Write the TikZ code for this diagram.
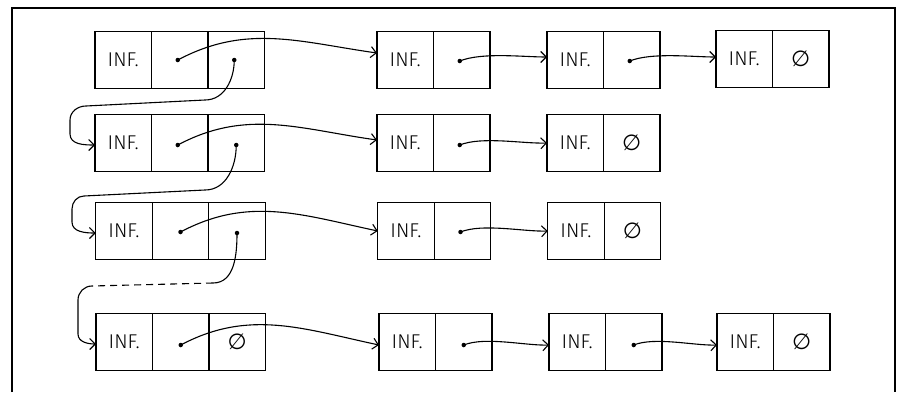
\documentclass[tikz,border=0pt]{standalone}
\usepackage{fontspec}
\newfontfamily\hand{Fira Sans Light}
\newfontfamily\symf{DejaVu Sans}
\usetikzlibrary{arrows.meta,positioning}
\begin{document}
\begin{tikzpicture}[x=1bp,y=1bp,
 cell/.style={draw, line width=1.3bp, minimum width=56.5bp, minimum height=57bp,
   inner sep=0pt, outer sep=0pt, font=\hand\fontsize{20}{20}\selectfont},
 ptr/.style={line width=1.1bp, -{Straight Barb[length=5.5bp,width=11bp]}},
 link/.style={line width=1.1bp},
 dotc/.style={circle, fill, inner sep=0pt, minimum size=4.5bp},
 nil/.style={font=\symf\fontsize{22}{22}\selectfont},
]
\useasboundingbox (0,0) rectangle (900,392);
% frame
\draw[line width=1.8bp] (12,0) -- (12,384) -- (895,384) -- (895,0);

% ---- row 1
\node[cell] (r1a1) at (123.25,332) {INF.};
\node[cell, right=0pt of r1a1] (r1a2) {};
\node[cell, right=0pt of r1a2] (r1a3) {};
\node[cell] (r1b1) at (405.25,332) {INF.};
\node[cell, right=0pt of r1b1] (r1b2) {};
\node[cell] (r1c1) at (575.25,332) {INF.};
\node[cell, right=0pt of r1c1] (r1c2) {};
\node[cell] (r1d1) at (744.25,333) {INF.};
\node[cell, right=0pt of r1d1, nil] (r1d2) {∅};

% ---- row 2
\node[cell] (r2a1) at (123.25,249) {INF.};
\node[cell, right=0pt of r2a1] (r2a2) {};
\node[cell, right=0pt of r2a2] (r2a3) {};
\node[cell] (r2b1) at (405.25,249) {INF.};
\node[cell, right=0pt of r2b1] (r2b2) {};
\node[cell] (r2c1) at (575.25,249) {INF.};
\node[cell, right=0pt of r2c1, nil] (r2c2) {∅};

% ---- row 3
\node[cell] (r3a1) at (124,161) {INF.};
\node[cell, right=0pt of r3a1] (r3a2) {};
\node[cell, right=0pt of r3a2] (r3a3) {};
\node[cell] (r3b1) at (406,161) {INF.};
\node[cell, right=0pt of r3b1] (r3b2) {};
\node[cell] (r3c1) at (576,161) {INF.};
\node[cell, right=0pt of r3c1, nil] (r3c2) {∅};

% ---- row 4
\node[cell] (r4a1) at (124.25,50) {INF.};
\node[cell, right=0pt of r4a1] (r4a2) {};
\node[cell, right=0pt of r4a2, nil] (r4a3) {∅};
\node[cell] (r4b1) at (407.25,50) {INF.};
\node[cell, right=0pt of r4b1] (r4b2) {};
\node[cell] (r4c1) at (577.25,50) {INF.};
\node[cell, right=0pt of r4c1] (r4c2) {};
\node[cell] (r4d1) at (745.25,50) {INF.};
\node[cell, right=0pt of r4d1, nil] (r4d2) {∅};

% ---- dots
\node[dotc] (p1a) at ([xshift=-2bp]r1a2.center) {};
\node[dotc] (p1n) at ([xshift=-2bp]r1a3.center) {};
\node[dotc] (p1b) at ([xshift=-2bp,yshift=-1bp]r1b2.center) {};
\node[dotc] (p1c) at ([xshift=-2bp,yshift=-1bp]r1c2.center) {};
\node[dotc] (p2a) at ([xshift=-2bp,yshift=-2bp]r2a2.center) {};
\node[dotc] (p2n) at ([yshift=-2bp]r2a3.center) {};
\node[dotc] (p2b) at ([xshift=-2bp,yshift=-2bp]r2b2.center) {};
\node[dotc] (p3a) at ([yshift=-1bp]r3a2.center) {};
\node[dotc] (p3n) at ([yshift=-2bp]r3a3.center) {};
\node[dotc] (p3b) at ([xshift=-2bp,yshift=-1bp]r3b2.center) {};
\node[dotc] (p4a) at ([yshift=-3bp]r4a2.center) {};
\node[dotc] (p4b) at ([yshift=-3bp]r4b2.center) {};
\node[dotc] (p4c) at ([yshift=-3bp]r4c2.center) {};

% ---- horizontal pointers
\draw[ptr] (p1a.center) to[out=28,in=172] ([yshift=7bp]r1b1.west);
\draw[ptr] (p1b.center) to[out=22,in=180,looseness=0.7] ([yshift=3bp]r1c1.west);
\draw[ptr] (p1c.center) to[out=22,in=180,looseness=0.7] ([yshift=2bp]r1d1.west);
\draw[ptr] (p2a.center) to[out=28,in=172] ([yshift=3bp]r2b1.west);
\draw[ptr] (p2b.center) to[out=22,in=182,looseness=0.7] (r2c1.west);
\draw[ptr] (p3a.center) to[out=28,in=168] (r3b1.west);
\draw[ptr] (p3b.center) to[out=22,in=182,looseness=0.7] (r3c1.west);
\draw[ptr] (p4a.center) to[out=28,in=168] ([yshift=-3bp]r4b1.west);
\draw[ptr] (p4b.center) to[out=22,in=182,looseness=0.7] ([yshift=-3bp]r4c1.west);
\draw[ptr] (p4c.center) to[out=22,in=182,looseness=0.7] ([yshift=-3bp]r4d1.west);

% ---- vertical links between lists
\draw[ptr] (p1n.center) to[out=-90,in=0] (205,292) -- (86,286)
   to[out=180,in=90] (70,272) -- (70,258) to[out=-90,in=180] ([yshift=-2bp]r2a1.west);
\draw[ptr] (p2n.center) to[out=-90,in=0] (205,202) -- (84,196)
   to[out=180,in=90] (72,183) -- (72,170) to[out=-90,in=180] ([yshift=-2bp]r3a1.west);
\coordinate (g1) at (213,109);
\coordinate (g2) at (92,106);
\draw[link] (p3n.center) to[out=-90,in=0] (g1);
\draw[link, dash pattern=on 7bp off 5bp] (g1) -- (g2);
\draw[ptr] (g2) to[out=180,in=90] (78,92) -- (78,58) to[out=-90,in=180] ([yshift=-2bp]r4a1.west);
\end{tikzpicture}
\end{document}
